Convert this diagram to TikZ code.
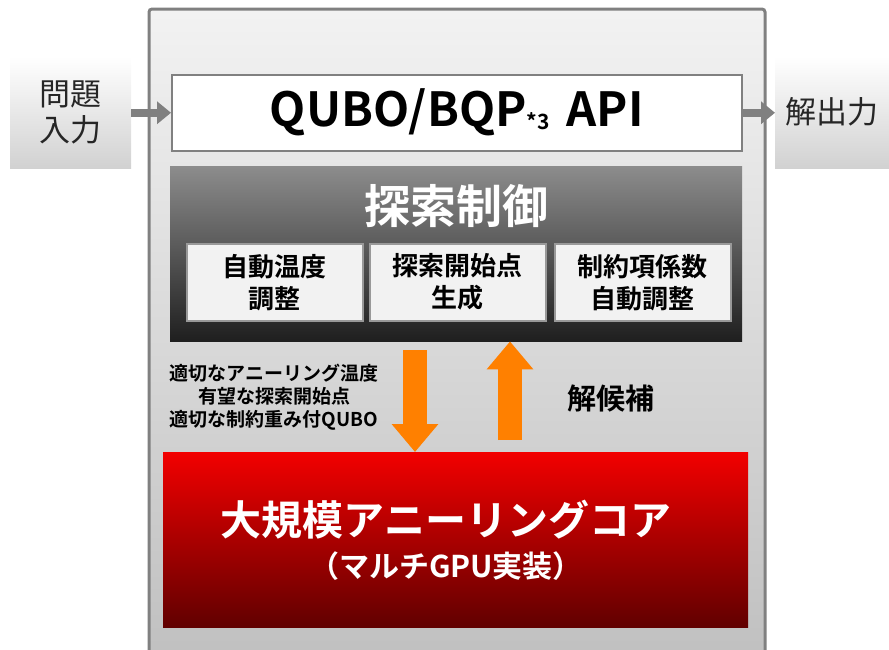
\documentclass[tikz,border=0pt]{standalone}
\usepackage{fontspec}
\setmainfont{Noto Sans CJK JP}
\newfontfamily\jpb{Noto Sans CJK JP Bold}
\usetikzlibrary{arrows.meta}
\definecolor{bordergray}{HTML}{808080}
\definecolor{orangearrow}{HTML}{FF8000}
\tikzset{
  iobox/.style={anchor=north west, inner sep=0pt, top color=white, bottom color=black!18,
    minimum width=121pt, minimum height=112pt, align=center, font=\fontsize{31}{36}\selectfont, text=black!85},
  subbox/.style={anchor=north west, inner sep=0pt, fill=black!5, draw=black!40, line width=1.5pt,
    minimum width=176pt, minimum height=77pt, align=center, font=\jpb\fontsize{26}{32}\selectfont},
  grayarrow/.style={draw=bordergray, line width=8pt, -{Triangle[length=14pt,width=22pt]}},
  blockarrow/.style={draw=orangearrow, line width=24pt, -{Triangle[length=28pt,width=45pt]}},
}
\begin{document}
\begin{tikzpicture}[x=1pt,y=-1pt]
\useasboundingbox (0,0) rectangle (889,649);
\clip (0,0) rectangle (889,649);
% outer frame
\shade[top color=black!5, bottom color=black!25, draw=bordergray, line width=3pt, rounded corners=3pt]
  (149,9) rectangle (765,670);
\node[iobox] (in) at (10,56) {問題\\入力};
\node[iobox, minimum width=114pt] (out) at (775,56) {解出力};
\node[anchor=north west, inner sep=0pt, fill=white, draw=bordergray, line width=1.5pt,
  minimum width=570pt, minimum height=76pt] (api) at (171,74)
  {\jpb\fontsize{47}{47}\selectfont QUBO/BQP\raisebox{-3pt}{\fontsize{21}{21}\selectfont *3}\hspace{17pt}API};
\draw[grayarrow] (in.east |- api.west) -- (api.west);
\draw[grayarrow] (api.east) -- (out.west |- api.east);
% control block
\node[anchor=north west, inner sep=0pt, top color=black!45, bottom color=black!88,
  minimum width=572pt, minimum height=175pt] (ctrl) at (170,166) {};
\node[text=white, font=\jpb\fontsize{46}{46}\selectfont] (ctrltitle) at (456,206) {探索制御};
\node[subbox] (s1) at (186,243) {自動温度\\調整};
\node[subbox] (s2) at (369,243) {探索開始点\\生成};
\node[subbox] (s3) at (554,243) {制約項係数\\自動調整};
% core
\node[anchor=north west, inner sep=0pt, top color=red!95!black, bottom color=red!38!black,
  minimum width=585pt, minimum height=175pt] (core) at (163,452) {};
\node[text=white, font=\jpb\fontsize{41}{41}\selectfont] (coret) at (446,520) {大規模アニーリングコア};
\node[text=white, font=\jpb\fontsize{30}{30}\selectfont] (cores) at (446,566) {（マルチGPU実装）};
% arrows between blocks
\coordinate (dtop) at (415,350);
\coordinate (ubot) at (510,440);
\draw[blockarrow] (dtop) -- (dtop |- core.north);
\draw[blockarrow] (ubot) -- (ubot |- ctrl.south);
\node[align=center, font=\jpb\fontsize{19}{23}\selectfont] (dlabel) at (274,397)
  {適切なアニーリング温度\\有望な探索開始点\\適切な制約重み付QUBO};
\node[font=\jpb\fontsize{29}{29}\selectfont] (ulabel) at (611,398) {解候補};
\end{tikzpicture}
\end{document}
